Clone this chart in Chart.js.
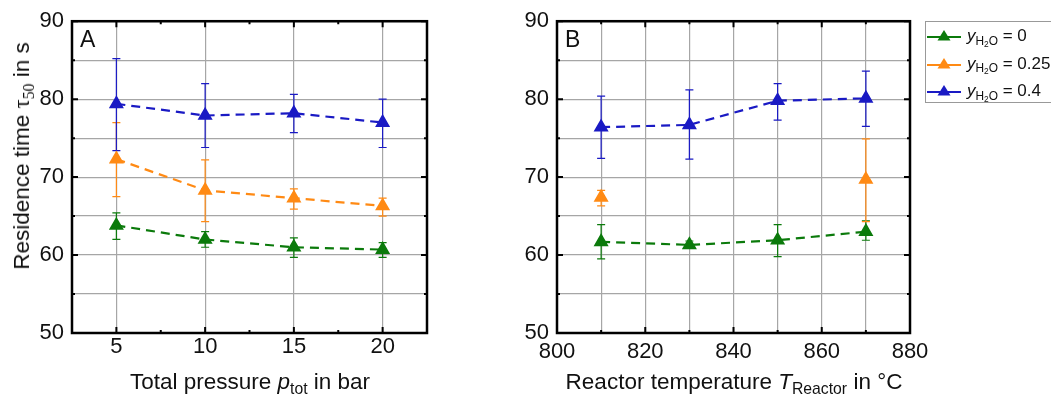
<!DOCTYPE html>
<html>
<head>
<meta charset="utf-8">
<script src="https://cdn.jsdelivr.net/npm/chart.js@4.4.0/dist/chart.umd.min.js"></script>
<style>
  body { margin: 0; background: #fff; font-family: "Liberation Sans", Arial, sans-serif; }
  #wrap { position: relative; width: 1051px; height: 399px; overflow: hidden; }
  .panel { position: absolute; top: 0; height: 399px; }
  .title { position: absolute; transform: translate(-50%, -50%); white-space: nowrap; font-size: 22.5px; color: #111; }
  .ytitle { transform: translate(-50%, -50%) rotate(-90deg); }
  .tag { position: absolute; font-size: 23px; color: #111; }
  sub { font-size: 70%; vertical-align: -0.3em; line-height: 0; }
  .serif { font-family: "Liberation Serif", "DejaVu Serif", serif; }
  #legend { position: absolute; left: 925px; top: 21px; width: 140px; height: 82px; border: 1px solid #999; border-right: none; box-sizing: border-box; }
  .row { position: absolute; left: 0; height: 20px; display: flex; align-items: center; font-size: 17px; color: #111; white-space: nowrap; }
  .row svg { margin-right: 5px; }
</style>
</head>
<body>
<div id="wrap">
  <div class="panel" style="left:0;width:445px;"><canvas id="chartA"></canvas></div>
  <div class="panel" style="left:490px;width:561px;"><canvas id="chartB"></canvas></div>
  <div class="tag" style="left:80px;top:26px;">A</div>
  <div class="tag" style="left:565px;top:26px;">B</div>
  <div class="title ytitle" style="left:22px;top:156px;">Residence time <span class="serif">τ<sub>50</sub></span> in s</div>
  <div class="title" style="left:250px;top:382px;">Total pressure <i>p</i><sub>tot</sub> in bar</div>
  <div class="title" style="left:734px;top:382px;">Reactor temperature <i>T</i><sub>Reactor</sub> in °C</div>
  <div id="legend"></div>
</div>
<script>
// x values
const pressures = [5, 10, 15, 20];
const temps = [810, 830, 850, 870];
const tempsOrange = [810, 870];

// legend: water fractions
const waterFractions = [0, 0.25, 0.4];

// panel A: residence time vs pressure
const aGreen = [63.8, 62.0, 61.0, 60.7];
const aGreenLo = [62.0, 61.0, 59.7, 59.7];
const aGreenHi = [65.4, 63.0, 62.2, 61.6];
const aOrange = [72.3, 68.3, 67.3, 66.3];
const aOrangeLo = [67.5, 64.3, 65.9, 65.0];
const aOrangeHi = [77.0, 72.2, 68.5, 67.3];
const aBlue = [79.4, 77.9, 78.2, 77.0];
const aBlueLo = [73.4, 73.8, 75.7, 73.8];
const aBlueHi = [85.2, 82.0, 80.6, 80.0];

// panel B: residence time vs reactor temperature
const bGreen = [61.7, 61.3, 61.9, 63.0];
const bGreenLo = [59.5, 60.9, 59.8, 61.9];
const bGreenHi = [63.9, 61.8, 63.9, 64.4];
const bOrange = [67.4, 69.7];
const bOrangeLo = [66.3, 64.3];
const bOrangeHi = [68.3, 74.9];
const bBlue = [76.4, 76.7, 79.8, 80.1];
const bBlueLo = [72.4, 72.3, 77.3, 76.5];
const bBlueHi = [80.4, 81.2, 82.0, 83.6];

const GREEN = '#0b7a0b';
const ORANGE = '#ff8a14';
const BLUE = '#1a1ac4';
const GRID = '#a6a6a6';
const FONT = '"Liberation Sans", Arial, sans-serif';

const pts = (xs, ys) => xs.map((x, i) => ({ x: x, y: ys[i] }));

function series(xs, ys, lo, hi, color, line) {
    return {
        data: pts(xs, ys),
        errLo: lo,
        errHi: hi,
        borderColor: color,
        backgroundColor: color,
        borderWidth: 2.2,
        borderDash: [9, 6],
        showLine: line,
        pointStyle: 'triangle',
        pointRadius: 6.5,
        pointHoverRadius: 6.5,
        tension: 0
    };
}

// error bars drawn under the markers
const errorBars = {
    id: 'errorBars',
    beforeDatasetsDraw(chart) {
        const { ctx, scales: { x, y } } = chart;
        chart.data.datasets.forEach(ds => {
            ctx.save();
            ctx.strokeStyle = ds.borderColor;
            ctx.lineWidth = 1.2;
            ds.data.forEach((p, j) => {
                const px = x.getPixelForValue(p.x);
                const top = y.getPixelForValue(ds.errHi[j]);
                const bot = y.getPixelForValue(ds.errLo[j]);
                ctx.beginPath();
                ctx.moveTo(px, top); ctx.lineTo(px, bot);
                ctx.moveTo(px - 4, top); ctx.lineTo(px + 4, top);
                ctx.moveTo(px - 4, bot); ctx.lineTo(px + 4, bot);
                ctx.stroke();
            });
            ctx.restore();
        });
    }
};

// black frame with inward ticks on all four sides
const frame = {
    id: 'frame',
    afterDatasetsDraw(chart) {
        const { ctx, chartArea: a, scales: { x, y } } = chart;
        ctx.save();
        ctx.strokeStyle = '#000';
        ctx.lineWidth = 2;
        ctx.beginPath();
        x.ticks.forEach(t => {
            const px = x.getPixelForValue(t.value);
            const len = t.label !== '' ? 6 : 3;
            ctx.moveTo(px, a.bottom); ctx.lineTo(px, a.bottom - len);
            ctx.moveTo(px, a.top); ctx.lineTo(px, a.top + len);
        });
        y.ticks.forEach(t => {
            const py = y.getPixelForValue(t.value);
            const len = t.label !== '' ? 6 : 3;
            ctx.moveTo(a.left, py); ctx.lineTo(a.left + len, py);
            ctx.moveTo(a.right, py); ctx.lineTo(a.right - len, py);
        });
        ctx.stroke();
        ctx.lineWidth = 2.5;
        ctx.strokeRect(a.left, a.top, a.right - a.left, a.bottom - a.top);
        ctx.restore();
    }
};

function makeChart(id, datasets, xOpt, yWidth, rightPad, xPad) {
    return new Chart(document.getElementById(id), {
        type: 'line',
        data: { datasets: datasets },
        options: {
            responsive: false,
            animation: false,
            layout: { padding: { top: 21, right: rightPad, left: 0, bottom: 0 } },
            plugins: { legend: { display: false }, tooltip: { enabled: false } },
            scales: {
                x: {
                    type: 'linear',
                    min: xOpt.min,
                    max: xOpt.max,
                    afterFit: s => { s.height = 66; },
                    border: { display: false },
                    grid: {
                        drawTicks: false,
                        lineWidth: 1.2,
                        color: ctx => (ctx.tick && xOpt.grid(ctx.tick.value)) ? GRID : 'rgba(0,0,0,0)'
                    },
                    ticks: {
                        stepSize: xOpt.step,
                        autoSkip: false,
                        maxRotation: 0,
                        padding: xPad,
                        color: '#111',
                        font: { family: FONT, size: 22 },
                        callback: v => xOpt.label(v) ? v : ''
                    }
                },
                y: {
                    min: 50,
                    max: 90,
                    afterFit: s => { s.width = yWidth; },
                    border: { display: false },
                    grid: { drawTicks: false, lineWidth: 1.2, color: GRID },
                    ticks: {
                        stepSize: 5,
                        autoSkip: false,
                        padding: 8,
                        color: '#111',
                        font: { family: FONT, size: 22 },
                        callback: v => v % 10 === 0 ? v : ''
                    }
                }
            }
        },
        plugins: [errorBars, frame]
    });
}

document.getElementById('chartA').width = 445;
document.getElementById('chartA').height = 399;
document.getElementById('chartB').width = 561;
document.getElementById('chartB').height = 399;

makeChart('chartA', [
    series(pressures, aGreen, aGreenLo, aGreenHi, GREEN, true),
    series(pressures, aOrange, aOrangeLo, aOrangeHi, ORANGE, true),
    series(pressures, aBlue, aBlueLo, aBlueHi, BLUE, true)
], {
    min: 2.5, max: 22.5, step: 2.5,
    grid: v => v % 5 === 0,
    label: v => v % 5 === 0
}, 72, 18, 1);

makeChart('chartB', [
    series(temps, bGreen, bGreenLo, bGreenHi, GREEN, true),
    series(tempsOrange, bOrange, bOrangeLo, bOrangeHi, ORANGE, false),
    series(temps, bBlue, bBlueLo, bBlueHi, BLUE, true)
], {
    min: 800, max: 880, step: 10,
    grid: v => true,
    label: v => v % 20 === 0
}, 67, 141, 6);

// legend
const legendColors = [GREEN, ORANGE, BLUE];
const legend = document.getElementById('legend');
waterFractions.forEach((w, i) => {
    const c = legendColors[i];
    const row = document.createElement('div');
    row.className = 'row';
    row.style.top = (4 + i * 27.5) + 'px';
    row.innerHTML =
        '<svg width="36" height="16"><line x1="1" y1="9" x2="35" y2="9" stroke="' + c + '" stroke-width="2"/>' +
        '<polygon points="18,2 24.5,12.5 11.5,12.5" fill="' + c + '"/></svg>' +
        '<span><i>y</i><sub>H<sub>2</sub>O</sub> = ' + w + '</span>';
    legend.appendChild(row);
});
</script>
</body>
</html>
